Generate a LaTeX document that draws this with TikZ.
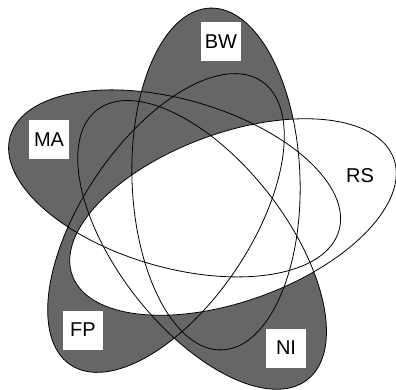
\documentclass[tikz,border=0pt]{standalone}
\usepackage{fontspec}
\setmainfont{Liberation Sans}
\definecolor{vgray}{HTML}{666666}
\tikzset{
  lbl/.style={fill=white, inner sep=0pt, minimum width=40pt, minimum height=39pt, font=\fontsize{20pt}{22pt}\selectfont},
  lblplain/.style={inner sep=0pt, font=\fontsize{20pt}{22pt}\selectfont},
  outline/.style={draw=black, line width=0.8pt},
}
\newcommand{\vset}[3]{% options, center, rotation
  \path[#1, shift={#2}, rotate=#3] (0,0) ellipse [x radius=171pt, y radius=84pt];}
\begin{document}
\begin{tikzpicture}[x=1pt,y=1pt]
\useasboundingbox (0,0) rectangle (396,-390);
% grey fills
\vset{fill=vgray}{(216,-179)}{92}
\vset{fill=vgray}{(174.6,-183.4)}{164}
\vset{fill=vgray}{(166,-223)}{236}
\vset{fill=vgray}{(202.1,-244.9)}{308}
% RS white
\vset{fill=white}{(233,-217)}{20}
% outlines
\vset{outline}{(216,-179)}{92}
\vset{outline}{(174.6,-183.4)}{164}
\vset{outline}{(166,-223)}{236}
\vset{outline}{(202.1,-244.9)}{308}
\vset{outline}{(233,-217)}{20}
% labels
\node[lbl] (bw) at (221,-42) {BW};
\node[lbl] (ma) at (49,-140) {MA};
\node[lblplain] (rs) at (360,-176) {RS};
\node[lbl] (fp) at (83,-330) {FP};
\node[lbl] (ni) at (286,-348) {NI};
\end{tikzpicture}
\end{document}
